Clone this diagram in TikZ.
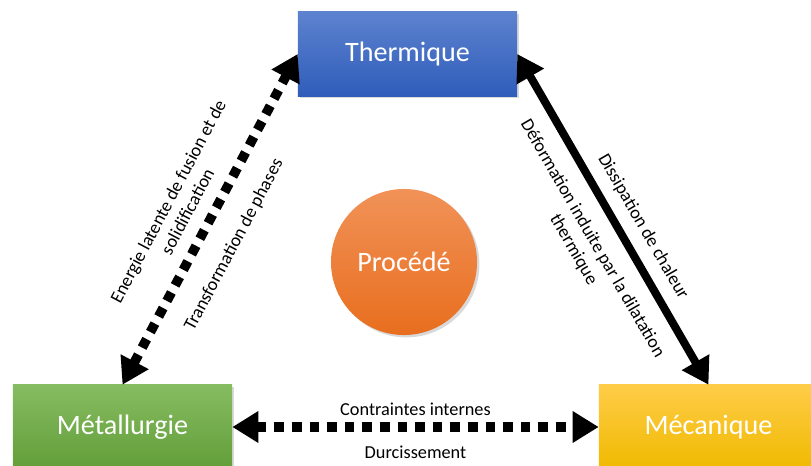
\documentclass[tikz,border=0pt]{standalone}
\usepackage{fontspec}
\setmainfont{Carlito}
\usetikzlibrary{arrows.meta,shadows}

\definecolor{thermtop}{RGB}{93,130,207}
\definecolor{thermbot}{RGB}{47,93,186}
\definecolor{mettop}{RGB}{134,188,98}
\definecolor{metbot}{RGB}{98,158,56}
\definecolor{mectop}{RGB}{255,204,72}
\definecolor{mecbot}{RGB}{240,186,0}
\definecolor{proctop}{RGB}{241,146,88}
\definecolor{procbot}{RGB}{232,110,30}

\tikzset{
  bloc/.style={rectangle, minimum width=5.475cm, minimum height=2.1cm, text=white,
    font=\fontsize{20}{24}\selectfont,
    drop shadow={opacity=0.3, shadow xshift=0.6mm, shadow yshift=-0.6mm}},
  fleche/.style={line width=0.2cm, {Triangle[length=0.65cm,width=0.75cm]}-{Triangle[length=0.65cm,width=0.75cm]}},
  pointille/.style={fleche, line width=0.24cm, dash pattern=on 0.24cm off 0.2cm},
  lien/.style={font=\fontsize{13}{15.6}\selectfont, align=center, sloped},
}

\begin{document}
\begin{tikzpicture}[x=0.025cm,y=-0.025cm]
\path[use as bounding box, clip] (0,0) rectangle (811,466);

\node[bloc, top color=thermtop, bottom color=thermbot] (thermique) at (407.5,54) {Thermique};
\node[bloc, top color=mettop, bottom color=metbot] (metallurgie) at (122.5,427) {Métallurgie};
\node[bloc, top color=mectop, bottom color=mecbot] (mecanique) at (708.5,427) {Mécanique};
\node[circle, minimum size=3.65cm, text=white, font=\fontsize{20}{24}\selectfont,
  top color=proctop, bottom color=procbot,
  drop shadow={opacity=0.3, shadow xshift=0.6mm, shadow yshift=-0.6mm}] (procede) at (404,262) {Procédé};

\draw[pointille] (metallurgie.north) -- (thermique.west)
  node[lien, pos=0.49, yshift=0.87cm] {Energie latente de fusion et de\\solidification}
  node[lien, pos=0.47, yshift=-0.83cm] {Transformation de phases};
\draw[fleche] (thermique.east) -- (mecanique.north)
  node[lien, pos=0.556, yshift=0.56cm] {Dissipation de chaleur}
  node[lien, pos=0.517, yshift=-0.96cm] {Déformation induite par la dilatation\\thermique};
\draw[pointille] (metallurgie.east) -- (mecanique.west)
  node[lien, pos=0.5, yshift=0.44cm] {Contraintes internes}
  node[lien, pos=0.5, yshift=-0.64cm] {Durcissement};
\end{tikzpicture}
\end{document}
